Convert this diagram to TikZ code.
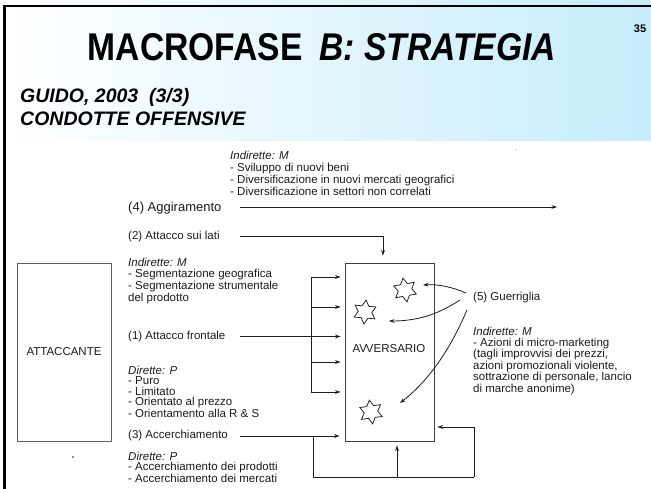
\documentclass[tikz,border=0pt]{standalone}
\usepackage{fontspec}
\setmainfont{Liberation Sans}
\usepackage{graphicx}
\usetikzlibrary{arrows.meta,shapes.geometric,calc}
\definecolor{ink}{HTML}{1C1C1C}
\definecolor{sky}{RGB}{198,237,252}
\begin{document}
\begin{tikzpicture}[x=1pt,y=-1pt,
  txt/.style={inner sep=0pt, anchor=north west, align=left, text=ink,
              font=\fontsize{11.5}{11.7}\selectfont},
  lbl/.style={inner sep=0pt, anchor=west, text=ink, font=\fontsize{11.5}{11.7}\selectfont},
  conn/.style={draw=ink, line width=0.8pt},
  arr/.style={conn, -{Stealth[length=5.5pt,width=3.8pt]}},
  starshape/.style={star, star points=6, star point ratio=1.75, minimum size=24pt,
                    inner sep=0pt, draw=ink, line width=0.75pt},
  boxstyle/.style={draw=ink!85, line width=0.85pt, inner sep=0pt, text=ink,
                   font=\fontsize{11.5}{11.7}\selectfont}
]
\useasboundingbox (0,0) rectangle (651,489);
\fill[white] (0,0) rectangle (651,489);
% header band
\shade[left color=white, right color=sky] (0,0) rectangle (651,141);
\draw[line width=2.6pt, black] (4.5,489) -- (4.5,6) -- (651,6);

% titles
\node[anchor=base, inner sep=0pt] (title) at (322,60.5)
  {\resizebox{468pt}{27pt}{\bfseries MACROFASE\hspace{0.5em}\textit{B: STRATEGIA}}};
\node[anchor=base, inner sep=0pt, font=\fontsize{11}{11}\selectfont\bfseries] (pg) at (640,33) {35};
\node[anchor=base west, inner sep=0pt, font=\fontsize{19.5}{19.5}\selectfont\bfseries\itshape] (sub1)
  at (20,103) {GUIDO, 2003\ \ (3/3)};
\node[anchor=base west, inner sep=0pt, font=\fontsize{19.5}{19.5}\selectfont\bfseries\itshape] (sub2)
  at (20,126) {CONDOTTE OFFENSIVE};

% actors
\node[boxstyle, draw=ink!70, minimum width=94pt, minimum height=178pt] (att) at (64,352) {ATTACCANTE};
\node[boxstyle, minimum width=89pt, minimum height=178pt] (av) at (389.5,352) {};
\node[lbl, anchor=center] (avl) at (389,349) {AV\kern-0.1em VERSARIO};

% texts of the manoeuvres
\node[txt, font=\fontsize{11.5}{12}\selectfont] (indtop) at (230,151)
  {\textit{Indirette: M}\\- Sviluppo di nuovi beni\\- Diversificazione in nuovi mercati geografici\\- Diversificazione in settori non correlati};
\node[lbl, font=\fontsize{13}{13}\selectfont] (agg) at (128,208) {(4) Aggiramento};
\node[lbl] (lati) at (128,236.5) {(2) Attacco sui lati};
\node[txt] (indl) at (128,257.5)
  {\textit{Indirette: M}\\- Segmentazione geografica\\- Segmentazione strumentale\\del prodotto};
\node[lbl] (front) at (128,336.5) {(1) Attacco frontale};
\node[txt, font=\fontsize{11.5}{10.4}\selectfont] (dir1) at (128,366)
  {\textit{Dirette: P}\\- Puro\\- Limitato\\- Orientato al prezzo\\- Orientamento alla R \& S};
\node[lbl] (acc) at (128,436) {(3) Accerchiamento};
\node[txt, font=\fontsize{11.5}{10.5}\selectfont] (dir2) at (128,451.5)
  {\textit{Dirette: P}\\- Accerchiamento dei prodotti\\- Accerchiamento dei mercati};
\node[lbl] (guer) at (473,298) {(5) Guerriglia};
\node[txt, font=\fontsize{11.5}{11.4}\selectfont] (indr) at (473,326.5)
  {\textit{Indirette: M}\\- Azioni di micro-marketing\\(tagli improvvisi dei prezzi,\\azioni promozionali violente,\\sottrazione di personale, lancio\\di marche anonime)};

% guerrilla targets
\node[starshape, rotate=10] (s1) at (405,290) {};
\node[starshape, rotate=-5] (s2) at (365,312) {};
\node[starshape, rotate=8] (s3) at (371,412) {};

% connectors
\coordinate (lx) at (240,0);
\coordinate (agEnd) at (557,207);
\draw[arr] (lx |- agEnd) -- (agEnd);
\draw[arr, shorten >=7pt] (lati.east -| lx) -| ([xshift=-6.5pt]av.north);
\draw[arr, shorten >=4pt] (front.east -| lx) -- (front.east -| av.west);

\coordinate (bx) at (311,0);
\draw[conn] (bx |- 0,277) -- (bx |- 0,392);
\foreach \yy in {277,307,362,392}
  \draw[arr, shorten >=4pt] (bx |- 0,\yy) -- (av.west |- 0,\yy);

\draw[arr, shorten >=5pt] (acc.east -| lx) -- (acc.east -| av.west);
\coordinate (lb) at (313,477);
\coordinate (rb) at (474,477);
\draw[conn] (acc.east -| lb) -- (lb) -- (rb);
\draw[arr, shorten >=3pt] (rb) -- (rb |- 0,427) -- (av.east |- 0,427);
\draw[arr, shorten >=4pt] ([xshift=7.5pt]av.south |- lb) -- ([xshift=7.5pt]av.south);

\coordinate (t1) at (423,285);
\coordinate (t2) at (389,321);
\coordinate (t3) at (400,403);
\draw[arr] ([shift={(-7,-5)}]guer.west) .. controls (452,287) and (438,284) .. (t1);
\draw[arr] ([shift={(-13,2)}]guer.west) .. controls (440,313) and (420,321) .. (t2);
\draw[arr] ([shift={(-6,12)}]guer.west) .. controls (452,345) and (432,378) .. (t3);

% specks
\fill[ink] (73,457) circle (0.9);
\fill[ink!50] (516,150) circle (0.6);
\end{tikzpicture}
\end{document}
